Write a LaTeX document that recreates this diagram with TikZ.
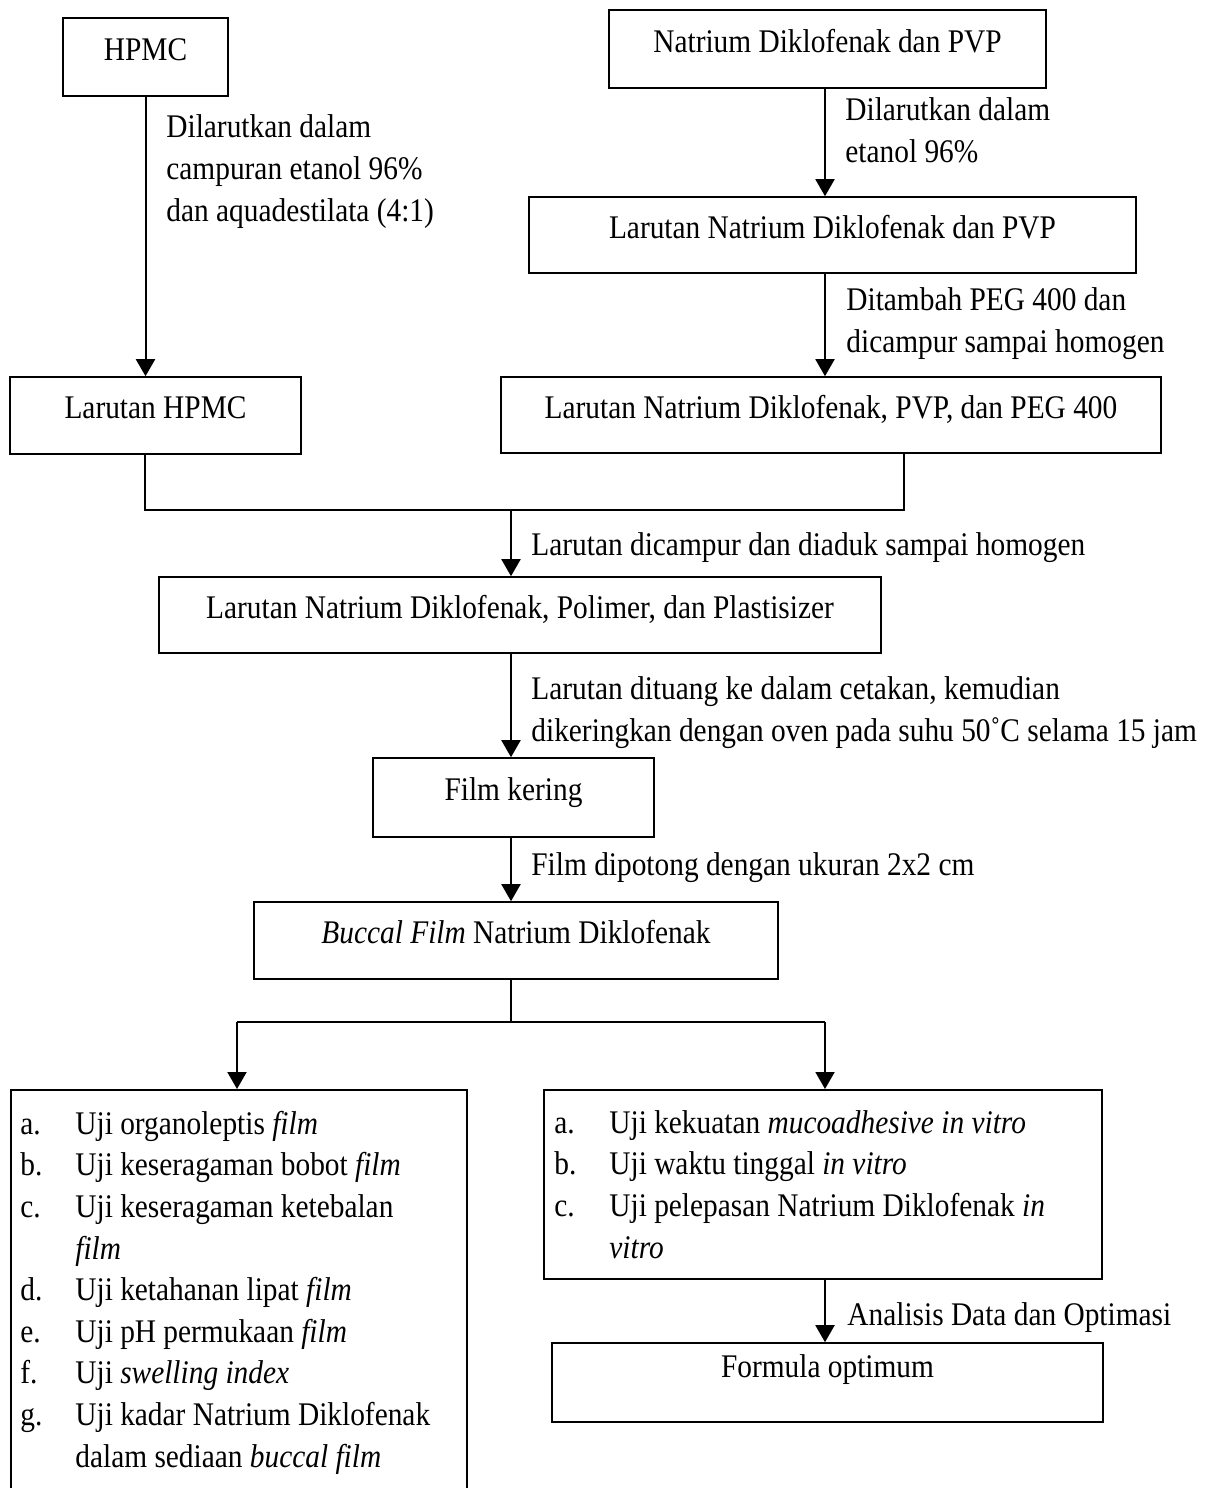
\documentclass[tikz,border=0pt]{standalone}
\usepackage{fontspec}
\setmainfont{Liberation Serif}[FakeStretch=0.89]
\usetikzlibrary{arrows.meta}

\newcommand{\itm}[1]{\makebox[27.5pt][l]{#1}}
\newcommand{\cont}{\hspace*{27.5pt}}

\tikzset{
  box/.style={draw,line width=.8pt,inner sep=0pt,text height=11pt,text depth=8pt},
  lbl/.style={anchor=base west,inner sep=0pt,align=left},
  arr/.style={line width=1pt,-{Triangle[width=9.5pt,length=8.5pt]}},
  ln/.style={line width=1pt},
}

\begin{document}
\begin{tikzpicture}[x=0.5pt,y=-0.5pt,font=\fontsize{16.5}{20.8}\selectfont]
\clip (0,0) rectangle (1206,1488);
\fill[white] (0,0) rectangle (1206,1488);

% bahan awal
\node[box,minimum width=82.5pt,minimum height=39pt] (hpmc) at (145.5,57) {HPMC};
\node[box,minimum width=218.5pt,minimum height=39pt] (natd) at (827.5,49) {Natrium Diklofenak dan PVP};
\node[box,minimum width=303.5pt,minimum height=38pt] (lnatd) at (832.5,235) {Larutan Natrium Diklofenak dan PVP};
\node[box,minimum width=145.5pt,minimum height=38.5pt] (lhpmc) at (155.5,415.5) {Larutan HPMC};
\node[box,minimum width=330pt,minimum height=38pt] (lpeg) at (831,415) {Larutan Natrium Diklofenak, PVP, dan PEG 400};

% pencampuran
\node[box,minimum width=361pt,minimum height=38pt] (lmix) at (520,615) {Larutan Natrium Diklofenak, Polimer, dan Plastisizer};
\node[box,minimum width=140.5pt,minimum height=39.5pt] (film) at (513.5,797.5) {Film kering};
\node[box,minimum width=262pt,minimum height=38.5pt] (buccal) at (516,940.5) {\textit{Buccal Film} Natrium Diklofenak};

% pengujian
\node[draw,line width=.8pt,anchor=north west,minimum width=228pt,minimum height=220pt] (testL) at (10,1089) {};
\node[draw,line width=.8pt,anchor=north west,minimum width=279pt,minimum height=94.5pt] (testR) at (543,1089) {};
\node[box,minimum width=275.5pt,minimum height=39.5pt,text depth=16pt] (opt) at (827.5,1382.5) {Formula optimum};

\node[lbl] (listL) at (20,1467) {\itm{a.}Uji organoleptis \textit{film}\\
  \itm{b.}Uji keseragaman bobot \textit{film}\\
  \itm{c.}Uji keseragaman ketebalan\\
  \cont\textit{film}\\
  \itm{d.}Uji ketahanan lipat \textit{film}\\
  \itm{e.}Uji pH permukaan \textit{film}\\
  \itm{f.}Uji \textit{swelling index}\\
  \itm{g.}Uji kadar Natrium Diklofenak\\
  \cont dalam sediaan \textit{buccal film}};
\node[lbl] (listR) at (554,1258) {\itm{a.}Uji kekuatan \textit{mucoadhesive in vitro}\\
  \itm{b.}Uji waktu tinggal \textit{in vitro}\\
  \itm{c.}Uji pelepasan Natrium Diklofenak \textit{in}\\
  \cont\textit{vitro}};

% keterangan proses
\node[lbl] (t1) at (166,221) {Dilarutkan dalam\\campuran etanol 96\%\\dan aquadestilata (4:1)};
\node[lbl] (t2) at (845,162) {Dilarutkan dalam\\etanol 96\%};
\node[lbl] (t3) at (846,352) {Ditambah PEG 400 dan\\dicampur sampai homogen};
\node[lbl] (t4) at (531,555) {Larutan dicampur dan diaduk sampai homogen};
\node[lbl] (t5) at (531,741) {Larutan dituang ke dalam cetakan, kemudian\\dikeringkan dengan oven pada suhu 50˚C selama 15 jam};
\node[lbl] (t6) at (531,875) {Film dipotong dengan ukuran 2x2 cm};
\node[lbl] (t7) at (847,1325) {Analisis Data dan Optimasi};

\coordinate (jl) at (145,510);
\coordinate (jm) at (511,510);
\coordinate (jr) at (904,510);
\coordinate (sm) at (511,1022);
\coordinate (sl) at (237,1022);
\coordinate (sr) at (825,1022);

\draw[arr] (hpmc.south) -- (hpmc.south |- lhpmc.north);
\draw[arr] (natd.south -| sr) -- (sr |- lnatd.north);
\draw[arr] (lnatd.south -| sr) -- (sr |- lpeg.north);
\draw[ln] (lhpmc.south -| jl) -- (jl) -- (jr) -- (lpeg.south -| jr);
\draw[arr] (jm) -- (jm |- lmix.north);
\draw[arr] (lmix.south -| jm) -- (jm |- film.north);
\draw[arr] (film.south -| jm) -- (jm |- buccal.north);
\draw[ln] (buccal.south -| sm) -- (sm);
\draw[ln] (sl) -- (sr);
\draw[arr] (sl) -- (sl |- testL.north);
\draw[arr] (sr) -- (sr |- testR.north);
\draw[arr] (testR.south -| sr) -- (sr |- opt.north);
\end{tikzpicture}
\end{document}
